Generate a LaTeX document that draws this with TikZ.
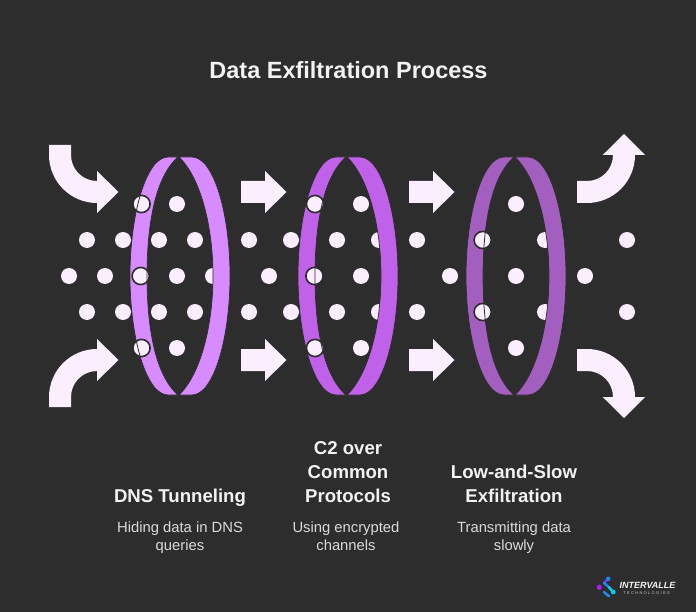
\documentclass[tikz,border=0pt]{standalone}
\usepackage{fontspec}
\setmainfont{Liberation Sans}
\definecolor{bgc}{HTML}{2D2D2D}
\definecolor{dotc}{HTML}{FBEEFF}
\definecolor{ringa}{HTML}{D88BFF}
\definecolor{ringb}{HTML}{BF62E9}
\definecolor{ringc}{HTML}{A35FC0}
\definecolor{headc}{HTML}{F2F2F2}
\definecolor{subc}{HTML}{DADADA}
\definecolor{logom}{HTML}{B01CF0}
\definecolor{logop}{HTML}{5A3CF0}
\definecolor{logob}{HTML}{1E88F0}
\definecolor{logoc}{HTML}{12C8E8}
\tikzset{
  dotmark/.style={circle,fill=dotc,minimum size=16pt,inner sep=0pt,draw=none},
  arrowshape/.style={fill=dotc,draw=none},
  ringpart/.style={draw=bgc,line width=0.7pt},
  titletext/.style={text=headc,font=\fontsize{23.5}{28}\selectfont\bfseries,anchor=base},
  headtext/.style={text=headc,font=\fontsize{18.6}{24}\selectfont\bfseries,align=center,anchor=south,inner sep=0pt},
  subtext/.style={text=subc,font=\fontsize{14.8}{18}\selectfont,align=center,anchor=north,inner sep=0pt},
  logotext/.style={text=headc,font=\fontsize{9}{10}\itshape\bfseries\selectfont,anchor=base,inner sep=0pt},
  logosub/.style={text=headc!80!bgc,font=\fontsize{4}{4}\selectfont,anchor=base,inner sep=0pt},
  logoline/.style={line width=2.6pt,line cap=round},
}
% left and right parts of a ring around centre x=#1
\newcommand{\ringleft}[1]{(#1-12,157) .. controls (#1-34,157) and (#1-50,215) .. (#1-50,276)
  .. controls (#1-50,337) and (#1-34,395) .. (#1-12,395) -- (#1-2,395)
  .. controls (#1-25,375) and (#1-33,327) .. (#1-33,276)
  .. controls (#1-33,225) and (#1-25,177) .. (#1-2,157) -- cycle}
\newcommand{\ringright}[1]{(#1+12,157) .. controls (#1+34,157) and (#1+50,215) .. (#1+50,276)
  .. controls (#1+50,337) and (#1+34,395) .. (#1+12,395) -- (#1-1,395)
  .. controls (#1+20,375) and (#1+33,327) .. (#1+33,276)
  .. controls (#1+33,225) and (#1+20,177) .. (#1-1,157) -- cycle}
% a dot in front of a ring: dark outline, ring edge showing across it
\newcommand{\frontdot}[3]{%
  \fill[dotc,draw=bgc,line width=1.6pt] (#1,#2) circle (8.6);
  \begin{scope}\clip (#1,#2) circle (8);
    \draw[bgc,line width=0.8pt] \ringleft{#3};
  \end{scope}}
\newcommand{\rightarrowshape}[2]{\fill[arrowshape] (#1,#2-11) -- (#1+24,#2-11) -- (#1+24,#2-21) -- (#1+45.5,#2) -- (#1+24,#2+21) -- (#1+24,#2+11) -- (#1,#2+11) -- cycle;}
\begin{document}
\begin{tikzpicture}[x=1pt,y=-1pt]
\useasboundingbox (0,0) rectangle (696,612);
\fill[bgc] (0,0) rectangle (696,612);

\node[titletext] (title) at (348.5,78.5) {Data Exfiltration Process};

% dots behind the rings
\foreach \x/\y in {177/204, 87/240,123/240,159/240,195/240, 69/276,105/276,177/276,213/276,
  87/312,123/312,159/312,195/312, 177/348,
  361/204, 249/240,291/240,337/240,379/240,417/240, 269/276,361/276,450/276,
  249/312,291/312,337/312,379/312,417/312, 361/348,
  516/204, 545/240,627/240, 516/276,585/276, 545/312,627/312, 516/348}
  {\node[dotmark] (d\x-\y) at (\x,\y) {};}

% rings
\fill[ringa,ringpart] \ringleft{180};
\fill[ringa,ringpart] \ringright{180};
\fill[ringb,ringpart] \ringleft{348};
\fill[ringb,ringpart] \ringright{348};
\fill[ringc,ringpart] \ringleft{516};
\fill[ringc,ringpart] \ringright{516};

% dots in front of the rings
\frontdot{141.5}{204}{180}
\frontdot{140.7}{276}{180}
\frontdot{141.5}{348}{180}
\frontdot{315}{204}{348}
\frontdot{314.5}{276}{348}
\frontdot{315}{348}{348}
\frontdot{482.7}{240}{516}
\frontdot{482.7}{312}{516}

% straight arrows
\rightarrowshape{241}{192}
\rightarrowshape{241}{360}
\rightarrowshape{409}{192}
\rightarrowshape{409}{360}

% curved arrows
\fill[arrowshape] (49,145) -- (71,145) -- (71,155) .. controls (71,169.4) and (82.6,181) .. (97,181)
  -- (97,171) -- (118.5,192) -- (97,213) -- (97,203) .. controls (70.5,203) and (49,181.5) .. (49,155) -- cycle;
\fill[arrowshape] (49,407) -- (71,407) -- (71,397) .. controls (71,382.6) and (82.6,371) .. (97,371)
  -- (97,381) -- (118.5,360) -- (97,339) -- (97,349) .. controls (70.5,349) and (49,370.5) .. (49,397) -- cycle;
\fill[arrowshape] (577,181) -- (587,181) .. controls (601.4,181) and (613,169.4) .. (613,155)
  -- (602.7,155) -- (624,134) -- (645,155) -- (635,155) .. controls (635,181.5) and (613.5,203) .. (587,203) -- (577,203) -- cycle;
\fill[arrowshape] (577,371) -- (587,371) .. controls (601.4,371) and (613,382.6) .. (613,397)
  -- (602.7,397) -- (624,418) -- (645,397) -- (635,397) .. controls (635,370.5) and (613.5,349) .. (587,349) -- (577,349) -- cycle;

% labels
\node[headtext] (h1) at (180,507) {DNS Tunneling};
\node[headtext] (h2) at (348,507) {C2 over\\Common\\Protocols\vphantom{g}};
\node[headtext] (h3) at (514,507) {Low-and-Slow\\Exfiltration\vphantom{g}};
\node[subtext] (s1) at (180,522) {Hiding data in DNS\\queries};
\node[subtext] (s2) at (346,522) {Using encrypted\\channels};
\node[subtext] (s3) at (514,522) {Transmitting data\\slowly};

% logo
\draw[logoline,logop] (604,583) -- (608.3,578.7);
\draw[logoline,logob] (604,583) -- (609,587.3);
\draw[logoline,logoc] (609,587.3) -- (613.3,592);
\draw[logoline,logob] (604,592) -- (609,596.3);
\fill[logom] (599.3,587.3) circle (2.6);
\fill[logob] (608.3,578.7) circle (2.2);
\fill[logoc] (613.3,592) circle (2.4);
\node[logotext] (logoa) at (647.5,588) {INTERVALLE};
\node[logosub] (logosubline) at (646.5,594.5) {T\,\,E\,\,C\,\,H\,\,N\,\,O\,\,L\,\,O\,\,G\,\,I\,\,E\,\,S};
\end{tikzpicture}
\end{document}
